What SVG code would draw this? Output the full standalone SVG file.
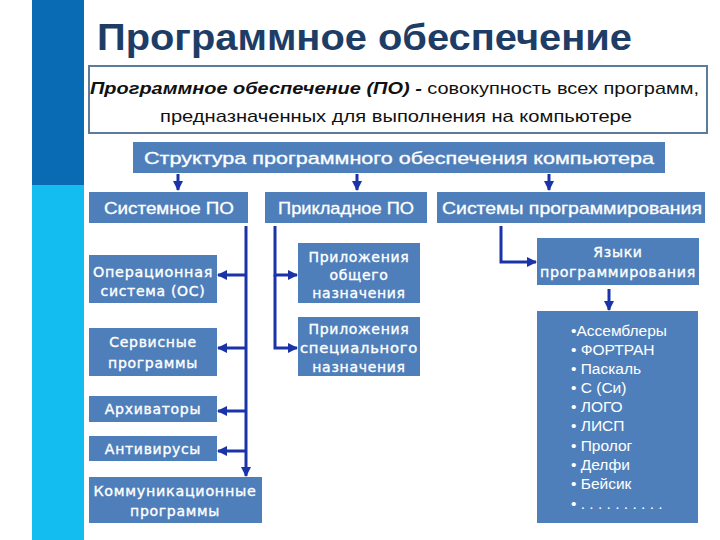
<svg xmlns="http://www.w3.org/2000/svg" width="720" height="540" viewBox="0 0 720 540">
<defs>
<marker id="ah" viewBox="0 0 10 10" refX="9" refY="5" markerWidth="3.4" markerHeight="3.4" orient="auto" markerUnits="strokeWidth">
<path d="M0,0 L10,5 L0,10 Z" fill="#1a33a8"/>
</marker>
<style>
.box{fill:#4f7fbb}
.bt{fill:#fff;stroke:#fff;stroke-width:0.35px;font-family:"DejaVu Sans","Liberation Sans",sans-serif;font-size:14px;text-anchor:middle;letter-spacing:0.7px}
.ht{fill:#fff;stroke:#fff;stroke-width:0.3px;font-family:"Liberation Sans",Arial,sans-serif;font-size:17px;text-anchor:middle}
.lt{fill:#fff;font-family:"Liberation Sans",Arial,sans-serif;font-size:15.5px}
.con{stroke:#1a33a8;stroke-width:3;fill:none}
.dt{font-family:"Liberation Sans",Arial,sans-serif;font-size:17px;fill:#111}
</style>
</defs>
<rect width="720" height="540" fill="#fff"/>
<g id="strip">
<rect x="32" y="0" width="52" height="185" fill="#0a6bb5"/>
<rect x="32" y="185" width="52" height="355" fill="#13bdf0"/>
</g>
<g id="title">
<text x="97" y="50" font-family="Liberation Sans,Arial,sans-serif" font-size="37" font-weight="bold" fill="#1e3d66" textLength="535" lengthAdjust="spacingAndGlyphs">Программное обеспечение</text>
</g>
<g id="definition">
<rect x="89" y="66" width="618" height="67" fill="#fff" stroke="#5d7c9c" stroke-width="2"/>
<text class="dt" x="90" y="94" textLength="609" lengthAdjust="spacingAndGlyphs"><tspan font-weight="bold" font-style="italic">Программное обеспечение (ПО) -</tspan> совокупность всех программ,</text>
<text class="dt" x="160" y="122" textLength="472" lengthAdjust="spacingAndGlyphs">предназначенных для выполнения на компьютере</text>
</g>
<g id="structure">
<rect class="box" x="133" y="142" width="532" height="31"/>
<text class="ht" x="399" y="164" textLength="510" lengthAdjust="spacingAndGlyphs">Структура программного обеспечения компьютера</text>
</g>
<g id="system">
<rect class="box" x="89" y="192" width="159" height="31"/>
<text class="ht" x="169" y="214" textLength="130" lengthAdjust="spacingAndGlyphs">Системное ПО</text>
</g>
<g id="applied">
<rect class="box" x="265" y="192" width="162" height="31"/>
<text class="ht" x="346" y="214" textLength="136" lengthAdjust="spacingAndGlyphs">Прикладное ПО</text>
</g>
<g id="progsys">
<rect class="box" x="437" y="192" width="268" height="31"/>
<text class="ht" x="572" y="214" textLength="260" lengthAdjust="spacingAndGlyphs">Системы программирования</text>
</g>
<g id="os">
<rect class="box" x="89" y="255" width="128" height="48"/>
<text class="bt" x="153" y="277" textLength="120" lengthAdjust="spacingAndGlyphs">Операционная</text>
<text class="bt" x="153" y="296">система (ОС)</text>
</g>
<g id="service">
<rect class="box" x="89" y="328" width="128" height="48"/>
<text class="bt" x="153" y="347">Сервисные</text>
<text class="bt" x="153" y="368">программы</text>
</g>
<g id="archivers">
<rect class="box" x="89" y="396" width="128" height="26"/>
<text class="bt" x="153" y="414">Архиваторы</text>
</g>
<g id="antivirus">
<rect class="box" x="89" y="436" width="128" height="25"/>
<text class="bt" x="153" y="454">Антивирусы</text>
</g>
<g id="comm">
<rect class="box" x="89" y="477" width="173" height="46"/>
<text class="bt" x="175" y="496" textLength="163" lengthAdjust="spacingAndGlyphs">Коммуникационные</text>
<text class="bt" x="175" y="516">программы</text>
</g>
<g id="appgen">
<rect class="box" x="298" y="243" width="122" height="60"/>
<text class="bt" x="359" y="262">Приложения</text>
<text class="bt" x="359" y="280">общего</text>
<text class="bt" x="359" y="298">назначения</text>
</g>
<g id="appspec">
<rect class="box" x="298" y="317" width="122" height="59"/>
<text class="bt" x="359" y="334">Приложения</text>
<text class="bt" x="359" y="353" textLength="118" lengthAdjust="spacingAndGlyphs">специального</text>
<text class="bt" x="359" y="372">назначения</text>
</g>
<g id="languages">
<rect class="box" x="537" y="238" width="162" height="47"/>
<text class="bt" x="618" y="257">Языки</text>
<text class="bt" x="618" y="277" textLength="156" lengthAdjust="spacingAndGlyphs">программирования</text>
</g>
<g id="langlist">
<rect class="box" x="537" y="311" width="161" height="212"/>
<text class="lt" x="571" y="336">•Ассемблеры</text>
<text class="lt" x="571" y="355">• ФОРТРАН</text>
<text class="lt" x="571" y="374">• Паскаль</text>
<text class="lt" x="571" y="393">• С (Си)</text>
<text class="lt" x="571" y="412">• ЛОГО</text>
<text class="lt" x="571" y="431">• ЛИСП</text>
<text class="lt" x="571" y="451">• Пролог</text>
<text class="lt" x="571" y="470">• Делфи</text>
<text class="lt" x="571" y="489">• Бейсик</text>
<text class="lt" x="571" y="509">• . . . . . . . . . .</text>
</g>
<g id="connectors">
<line class="con" x1="178" y1="174" x2="178" y2="190" marker-end="url(#ah)"/>
<line class="con" x1="357" y1="174" x2="357" y2="190" marker-end="url(#ah)"/>
<line class="con" x1="549" y1="174" x2="549" y2="190" marker-end="url(#ah)"/>
<line class="con" x1="246" y1="226" x2="246" y2="476" marker-end="url(#ah)"/>
<line class="con" x1="246" y1="275" x2="218" y2="275" marker-end="url(#ah)"/>
<line class="con" x1="246" y1="348" x2="218" y2="348" marker-end="url(#ah)"/>
<line class="con" x1="246" y1="411" x2="218" y2="411" marker-end="url(#ah)"/>
<line class="con" x1="246" y1="451" x2="218" y2="451" marker-end="url(#ah)"/>
<polyline class="con" points="275,226 275,275 297,275" marker-end="url(#ah)"/>
<polyline class="con" points="275,275 275,348 297,348" marker-end="url(#ah)"/>
<polyline class="con" points="501,226 501,262 536,262" marker-end="url(#ah)"/>
<line class="con" x1="609" y1="289" x2="609" y2="310" marker-end="url(#ah)"/>
</g>
</svg>
